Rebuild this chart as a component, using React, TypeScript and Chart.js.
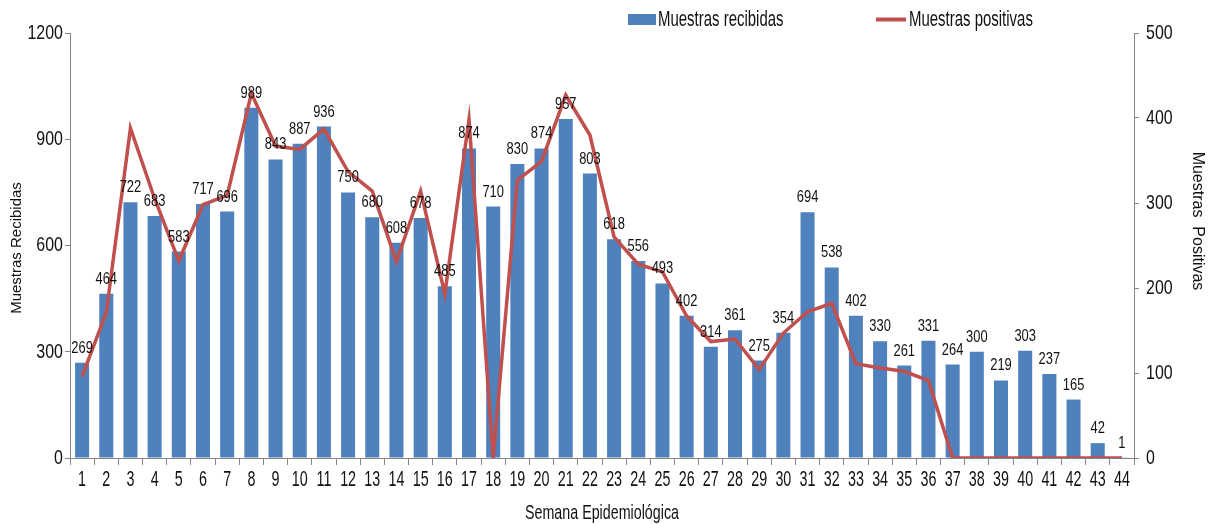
import React, { useEffect, useRef } from "react";
import { Chart, registerables } from "chart.js";

Chart.register(...registerables);

const weeks = Array.from({ length: 44 }, (_, i) => String(i + 1));
const received = [269, 464, 722, 683, 583, 717, 696, 989, 843, 887, 936, 750, 680, 608, 678, 485, 874, 710, 830, 874, 957, 803, 618, 556, 493, 402, 314, 361, 275, 354, 694, 538, 402, 330, 261, 331, 264, 300, 219, 303, 237, 165, 42, 1];
const positive = [96, 171, 388, 305, 232, 298, 309, 429, 367, 363, 387, 337, 314, 231, 314, 193, 398, 0, 327, 349, 427, 380, 260, 228, 219, 167, 137, 140, 104, 147, 172, 182, 111, 106, 102, 91, 0, 0, 0, 0, 0, 0, 0, 0];
const leftTicks = [0, 300, 600, 900, 1200];
const rightTicks = [0, 100, 200, 300, 400, 500];

const FONT = "'Liberation Sans', Arial, sans-serif";
const BLUE = "#4F81BD";
const RED = "#C0504D";
const AXIS = "#868686";
const TEXT = "#111";

function drawText(
  ctx: CanvasRenderingContext2D,
  text: string,
  x: number,
  y: number,
  size: number,
  sx: number,
  align: CanvasTextAlign,
  baseline: CanvasTextBaseline,
  rot = 0
) {
  ctx.save();
  ctx.translate(x, y);
  if (rot) ctx.rotate(rot);
  ctx.scale(sx, 1);
  ctx.font = `${size}px ${FONT}`;
  ctx.fillStyle = TEXT;
  ctx.textAlign = align;
  ctx.textBaseline = baseline;
  ctx.fillText(text, 0, 0);
  ctx.restore();
}

const textPlugin = {
  id: "texts",
  afterDatasetsDraw(chart: any) {
    const ctx = chart.ctx as CanvasRenderingContext2D;
    const { x, y, y1 } = chart.scales;
    const meta = chart.getDatasetMeta(1);
    meta.data.forEach((bar: any, i: number) => {
      drawText(ctx, String(received[i]), bar.x, bar.y - 10, 17, 0.76, "center", "alphabetic");
    });
    leftTicks.forEach((v) => {
      drawText(ctx, String(v), y.left + y.width - 7, y.getPixelForValue(v), 21, 0.76, "right", "middle");
    });
    rightTicks.forEach((v) => {
      drawText(ctx, String(v), y1.left + 12, y1.getPixelForValue(v), 21, 0.76, "left", "middle");
    });
    weeks.forEach((w, i) => {
      drawText(ctx, w, x.getPixelForValue(i), 480, 22, 0.65, "center", "middle");
    });
    drawText(ctx, "Semana Epidemiológica", (x.left + x.right) / 2, 513, 21, 0.68, "center", "middle");
    drawText(ctx, "Muestras Recibidas", 17, 248, 15, 1, "center", "middle", -Math.PI / 2);
    drawText(ctx, "Muestras  Positivas", 1197, 221, 16, 1, "center", "middle", Math.PI / 2);
    const ly = 19.5;
    ctx.save();
    ctx.fillStyle = BLUE;
    ctx.fillRect(628, 14, 28, 11);
    ctx.strokeStyle = RED;
    ctx.lineWidth = 4;
    ctx.beginPath();
    ctx.moveTo(876, ly);
    ctx.lineTo(906, ly);
    ctx.stroke();
    ctx.restore();
    drawText(ctx, "Muestras recibidas", 658, ly, 22, 0.68, "left", "middle");
    drawText(ctx, "Muestras positivas", 909, ly, 22, 0.68, "left", "middle");
  },
};

export default function App() {
  const ref = useRef<HTMLCanvasElement>(null);
  useEffect(() => {
    if (!ref.current) return;
    const chart = new Chart(ref.current, {
      type: "bar",
      data: {
        labels: weeks,
        datasets: [
          {
            type: "line",
            label: "Muestras positivas",
            data: positive,
            yAxisID: "y1",
            borderColor: RED,
            backgroundColor: RED,
            borderWidth: 3.5,
            pointRadius: 0,
            tension: 0,
            order: 0,
          } as any,
          {
            type: "bar",
            label: "Muestras recibidas",
            data: received,
            yAxisID: "y",
            backgroundColor: BLUE,
            barPercentage: 0.58,
            categoryPercentage: 1,
            order: 1,
          },
        ],
      },
      options: {
        animation: false,
        responsive: false,
        maintainAspectRatio: false,
        layout: { padding: { top: 33, left: 0, right: 0, bottom: 0 } },
        plugins: { legend: { display: false }, tooltip: { enabled: false } },
        scales: {
          x: {
            offset: true,
            grid: { display: true, drawOnChartArea: false, drawTicks: true, tickLength: 7, color: AXIS, offset: true },
            border: { display: true, color: AXIS },
            ticks: { display: false, autoSkip: false },
            afterFit: (s: any) => { s.height = 66; },
          },
          y: {
            position: "left",
            min: 0,
            max: 1200,
            afterBuildTicks: (s: any) => { s.ticks = leftTicks.map((v) => ({ value: v })); },
            grid: { display: true, drawOnChartArea: false, drawTicks: true, tickLength: 5, color: AXIS },
            border: { display: true, color: AXIS },
            ticks: { display: false },
            afterFit: (s: any) => { s.width = 70; },
          },
          y1: {
            position: "right",
            min: 0,
            max: 500,
            afterBuildTicks: (s: any) => { s.ticks = rightTicks.map((v) => ({ value: v })); },
            grid: { display: true, drawOnChartArea: false, drawTicks: true, tickLength: 5, color: AXIS },
            border: { display: true, color: AXIS },
            ticks: { display: false },
            afterFit: (s: any) => { s.width = 87; },
          },
        },
      },
      plugins: [textPlugin],
    });
    return () => chart.destroy();
  }, []);
  return (
    <div style={{ position: "fixed", left: 0, top: 0, width: 1221, height: 524, background: "#fff" }}>
      <canvas ref={ref} width={1221} height={524} style={{ width: 1221, height: 524, display: "block" }} />
    </div>
  );
}
